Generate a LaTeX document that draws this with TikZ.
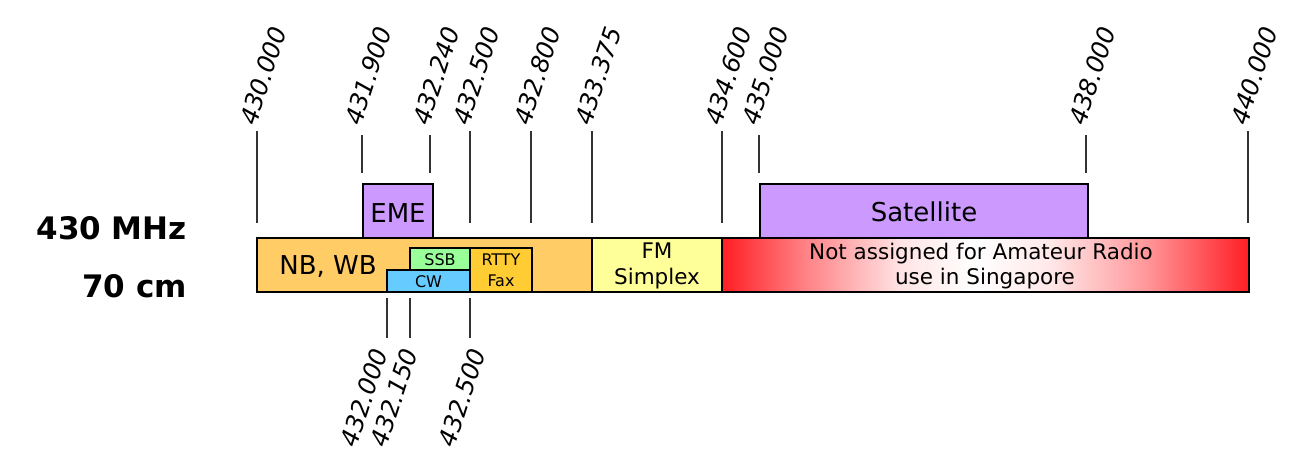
\documentclass[tikz,border=0pt]{standalone}
\usepackage{fontspec}
\setmainfont{DejaVu Sans}
\definecolor{nbwb}{HTML}{FFCC66}
\definecolor{eme}{HTML}{CC99FF}
\definecolor{ssb}{HTML}{99FF99}
\definecolor{cw}{HTML}{66CCFF}
\definecolor{rtty}{HTML}{FFCC33}
\definecolor{fm}{HTML}{FFFF99}
\definecolor{notham}{HTML}{FF1E24}
\pgfdeclarehorizontalshading{notassigned}{100bp}{color(0bp)=(notham); color(25bp)=(notham);
  color(33bp)=(notham!55!white); color(42bp)=(notham!12!white); color(49bp)=(white);
  color(56bp)=(notham!10!white); color(65bp)=(notham!45!white); color(75bp)=(notham); color(100bp)=(notham)}

\begin{document}
\begin{tikzpicture}[x=1pt,y=1pt,
    band/.style={draw=black,line width=2pt},
    tick/.style={draw=black!80,line width=1.2pt},
    freqtop/.style={anchor=base west,rotate=72,inner sep=0pt,font=\fontsize{24.5}{28}\selectfont\itshape},
    freqbot/.style={anchor=base east,rotate=72,inner sep=0pt,font=\fontsize{24.5}{28}\selectfont\itshape},
    big/.style={anchor=base,inner sep=0pt,font=\fontsize{26}{30}\selectfont},
    mid/.style={anchor=base,inner sep=0pt,font=\fontsize{21.5}{26}\selectfont},
    small/.style={anchor=base,inner sep=0pt,font=\fontsize{16}{19}\selectfont}]
  \useasboundingbox (0,0) rectangle (1310,472);
  % band name
  \node[anchor=base east,inner sep=0pt,font=\fontsize{31}{36}\selectfont\bfseries] (mhz) at (187,232) {430 MHz};
  \node[anchor=base east,inner sep=0pt,font=\fontsize{31}{36}\selectfont\bfseries] (cm) at (187,174.3) {70 cm};
  % frequency marks
  \foreach \x/\f/\top/\bot [count=\i] in {257/430.000/341/249.3, 362/431.900/337/298.5,
      430/432.240/337/298.5, 470/432.500/341/249.3, 531/432.800/341/249.3,
      592/433.375/341/249.3, 722/434.600/341/249.3, 759/435.000/337/298.5,
      1086/438.000/337/298.5, 1248/440.000/341/249.3}
  {
    \draw[tick] (\x,\top) -- (\x,\bot);
    \node[freqtop] (up\i) at (\x-1,345) {\f};
  }
  \foreach \x/\p/\f [count=\i] in {387/388/432.000, 410/418/432.150, 470/486/432.500}
  {
    \draw[tick] (\x,173.7) -- (\x,134.3);
    \node[freqbot] (down\i) at (\p,120) {\f};
  }
  % main band
  \draw[band,fill=nbwb] (257,180.5) rectangle (592,234);
  \draw[band,fill=fm] (592,180.5) rectangle (722,234);
  \shade[shading=notassigned] (722,180.5) rectangle (1249,234);
  \draw[band] (722,180.5) rectangle (1249,234);
  \draw[band,fill=ssb] (410,202) rectangle (470,223.7);
  \draw[band,fill=cw] (387,180.5) rectangle (470,202);
  \draw[band,fill=rtty] (470,180.5) rectangle (531.5,223.7);
  \draw[band,fill=eme] (363,234) rectangle (433,287.7);
  \draw[band,fill=eme] (760,234) rectangle (1088,287.7);
  % texts
  \node[big] (nb) at (328,197) {NB, WB};
  \node[big] (emetxt) at (398,249.7) {EME};
  \node[big] (sat) at (924,250.3) {Satellite};
  \node[small] (ssbtxt) at (440,206) {SSB};
  \node[small] (cwtxt) at (428.5,184.3) {CW};
  \node[small] (rtty1) at (501,206) {RTTY};
  \node[small] (rtty2) at (501,185.3) {Fax};
  \node[mid] (fm1) at (657,213) {FM};
  \node[mid] (fm2) at (657,187.5) {Simplex};
  \node[mid] (na1) at (981,212) {Not assigned for Amateur Radio};
  \node[mid] (na2) at (985,187) {use in Singapore};
\end{tikzpicture}
\end{document}
